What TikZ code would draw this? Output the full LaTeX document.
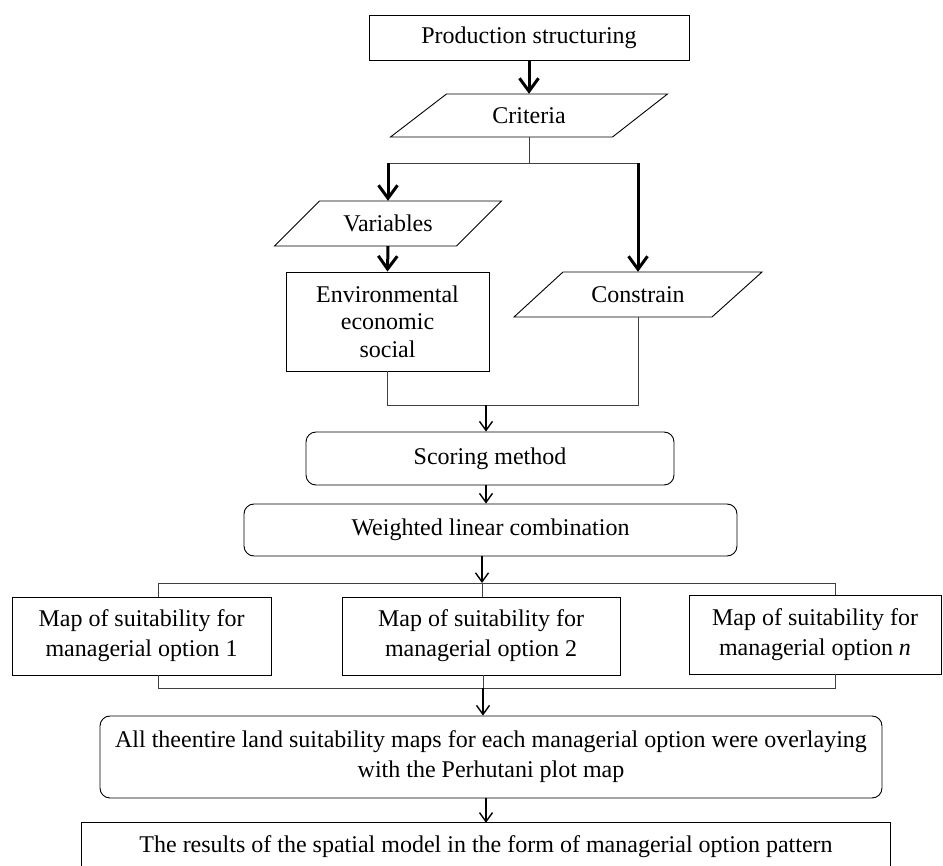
\documentclass[tikz,border=0pt]{standalone}
\usepackage{fontspec}
\setmainfont{Liberation Serif}
\usetikzlibrary{arrows.meta,calc}
\begin{document}
\begin{tikzpicture}[x=1pt,y=-1pt,
  txt/.style={rectangle, inner sep=0pt, align=center, font=\fontsize{24}{30}\selectfont},
  box/.style={txt, draw, line width=0.9pt},
  rbox/.style={box, rounded corners=10pt},
  shapeline/.style={line width=0.9pt, line join=miter},
  conn/.style={line width=0.9pt, draw=black!75},
  thinarrow/.style={line width=1.4pt, -{Straight Barb[length=9pt,width=13pt]}},
  thickarrow/.style={line width=3pt, -{Straight Barb[length=13pt,width=19pt]}},
]
\useasboundingbox (0,0) rectangle (943,866);

% Production structuring
\node[box, minimum width=320pt, minimum height=45pt] (prod) at (529,37.5) {Production structuring};

% Criteria (parallelogram)
\draw[shapeline] (446.5,94) -- (667.5,94) -- (612.5,137) -- (390.5,137) -- cycle;
\node[txt, minimum width=221pt, minimum height=43pt] (crit) at (529,115.5) {Criteria};

% Variables (parallelogram)
\draw[shapeline] (319.5,201) -- (501.5,201) -- (456.5,246) -- (274.5,246) -- cycle;
\node[txt, minimum width=182pt, minimum height=45pt] (var) at (388,223.5) {Variables};

% Environmental box
\node[box, minimum width=203pt, minimum height=99pt, font=\fontsize{24}{27.5}\selectfont] (env) at (387.5,321.5) {Environmental\\economic\\social};

% Constrain (parallelogram)
\draw[shapeline] (563,272) -- (762,272) -- (712,317) -- (514,317) -- cycle;
\node[txt, minimum width=199pt, minimum height=45pt] (con) at (638,294.5) {Constrain};

% Scoring and weighted
\node[rbox, minimum width=368pt, minimum height=53pt] (score) at (490,458.5) {Scoring method};
\node[rbox, minimum width=493pt, minimum height=52pt] (weight) at (490.5,530) {Weighted linear combination};

% Map boxes
\node[box, minimum width=259pt, minimum height=78pt] (m1) at (141.5,636) {Map of suitability for\\managerial option 1};
\node[box, minimum width=278pt, minimum height=78pt] (m2) at (481,636) {Map of suitability for\\managerial option 2};
\node[box, minimum width=252pt, minimum height=79pt] (mn) at (815,634.5) {Map of suitability for\\managerial option \textit{n}};

% Overlay
\node[rbox, minimum width=782pt, minimum height=82pt] (over) at (491,757) {All theentire land suitability maps for each managerial option were overlaying\\with the Perhutani plot map};

% Result (bottom open at page edge)
\node[txt, minimum width=808pt, minimum height=48pt] (res) at (486,847) {The results of the spatial model in the form of managerial option pattern};
\draw[shapeline] (res.south west) -- (res.north west) -- (res.north east) -- (res.south east);

% Connectors
\draw[thickarrow] (prod.south) -- (crit.north);
\coordinate (cj) at (529,163);
\coordinate (cl) at (388,163);
\coordinate (cr) at (638,163);
\draw[conn] (crit.south) -- (cj);
\draw[conn] (cl) -- (cr);
\draw[thickarrow] (cl) -- (var.north);
\draw[thickarrow] (cr) -- (con.north);
\draw[thickarrow] (var.south) -- (env.north);

\coordinate (jl) at (387.5,405);
\coordinate (jr) at (638,405);
\coordinate (jm) at (486,405);
\draw[conn] (env.south) -- (jl) -- (jr) -- (con.south);
\draw[thinarrow] (jm) -- (jm |- score.north);
\draw[thinarrow] (jm |- score.south) -- (jm |- weight.north);

\coordinate (sl) at (158,583);
\coordinate (sm) at (482,583);
\coordinate (sr) at (835,583);
\draw[thinarrow] (sm |- weight.south) -- (sm);
\draw[conn] (sl) -- (sr);
\draw[conn] (sl) -- (sl |- m1.north);
\draw[conn] (sm) -- (sm |- m2.north);
\draw[conn] (sr) -- (sr |- mn.north);

\coordinate (bl) at (158,688);
\coordinate (bm) at (483,688);
\coordinate (br) at (835,688);
\draw[conn] (bl |- m1.south) -- (bl) -- (br) -- (br |- mn.south);
\draw[conn] (bm |- m2.south) -- (bm);
\draw[thinarrow] (bm) -- (bm |- over.north);
\draw[thinarrow] (res.north |- over.south) -- (res.north);
\end{tikzpicture}
\end{document}
